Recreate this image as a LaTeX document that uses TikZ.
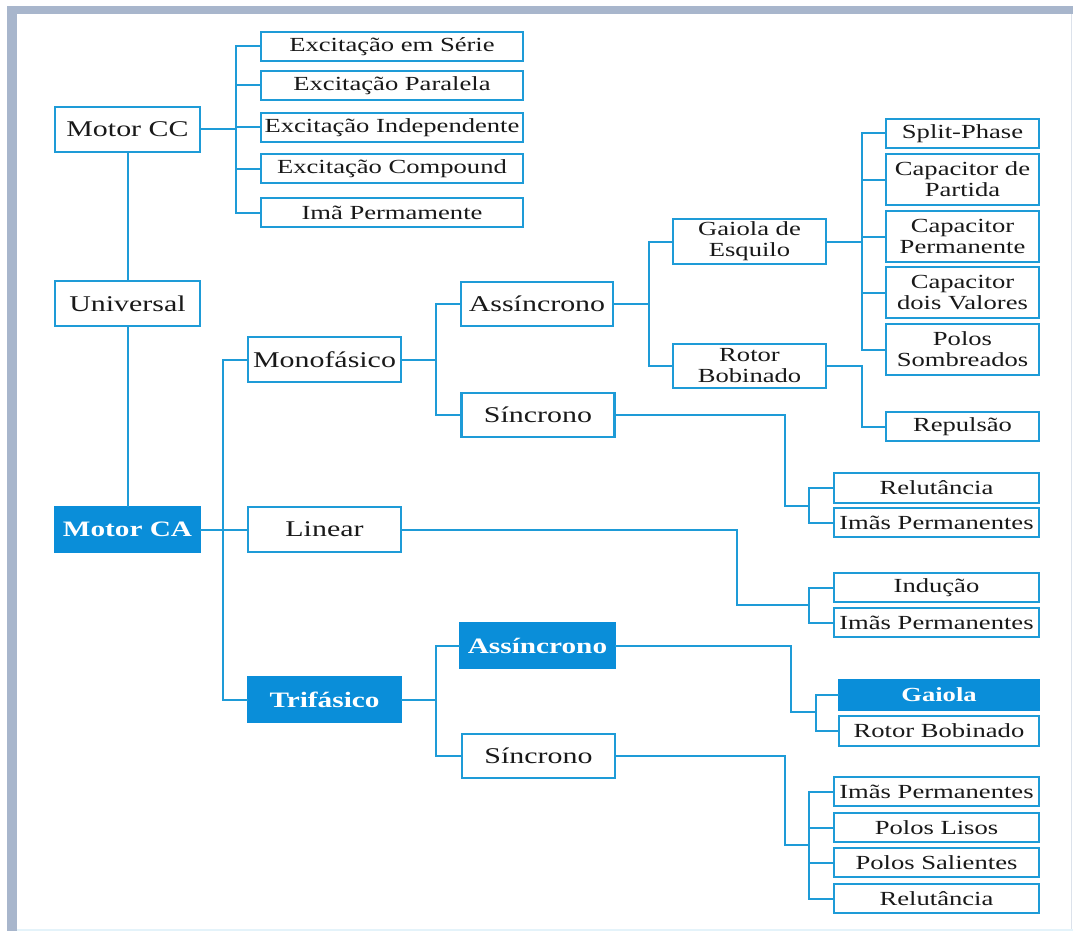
\documentclass[tikz,border=0pt]{standalone}
\usepackage{fontspec}
\setmainfont{Liberation Serif}[FakeStretch=1.33]
\definecolor{cb}{RGB}{30,155,215}
\definecolor{cf}{RGB}{10,142,217}
\definecolor{frame}{RGB}{168,182,204}
\definecolor{txt}{RGB}{25,25,25}
\tikzset{
  box/.style={draw=cb, line width=2.1pt, fill=white, inner sep=0pt, align=center, text=txt},
  fbox/.style={draw=cf, line width=2.1pt, fill=cf, inner sep=0pt, align=center, text=white, font=\bfseries\fontsize{22}{24}\selectfont},
  big/.style={font=\fontsize{22.5}{24}\selectfont},
  sml/.style={font=\fontsize{20}{21}\selectfont},
  conn/.style={draw=cb, line width=2pt, line cap=rect},
}
\begin{document}
\begin{tikzpicture}[x=1pt,y=-1pt]
\useasboundingbox (0,0) rectangle (1073,931);
\fill[white] (0,0) rectangle (1073,931);
\fill[frame] (7,6) rectangle (1073,14);
\fill[frame] (7,6) rectangle (17,931);
\draw[frame!40, line width=1pt] (1071,14) -- (1071,931);
\draw[cb!12, line width=2pt] (17,930) -- (1073,930);

% bracket x-coordinates
\coordinate (bcc) at (236,0);
\coordinate (bca) at (223,0);
\coordinate (bm) at (436,0);
\coordinate (bam) at (649,0);
\coordinate (bg) at (862,0);
\coordinate (vsm) at (785,0);
\coordinate (bsm) at (809,0);
\coordinate (vl) at (737,0);
\coordinate (vat) at (791,0);
\coordinate (bat) at (816,0);

% left column
\node[box, big, minimum width=145pt, minimum height=45pt] (mcc) at (127.5,129.5) {Motor CC};
\node[box, big, minimum width=145pt, minimum height=45pt] (univ) at (127.5,303.5) {Universal};
\node[fbox, minimum width=145pt, minimum height=45pt] (mca) at (127.5,529.5) {Motor CA};

% CC children
\node[box, sml, minimum width=262pt, minimum height=29pt] (e1) at (392,46.5) {Excitação em Série};
\node[box, sml, minimum width=262pt, minimum height=29pt] (e2) at (392,85.5) {Excitação Paralela};
\node[box, sml, minimum width=262pt, minimum height=29pt] (e3) at (392,127.5) {Excitação Independente};
\node[box, sml, minimum width=262pt, minimum height=29pt] (e4) at (392,168.5) {Excitação Compound};
\node[box, sml, minimum width=262pt, minimum height=29pt] (e5) at (392,212.5) {Imã Permamente};

% CA children
\node[box, big, minimum width=153pt, minimum height=45pt] (mono) at (324.5,359.5) {Monofásico};
\node[box, big, minimum width=153pt, minimum height=45pt] (lin) at (324.5,529.5) {Linear};
\node[fbox, minimum width=153pt, minimum height=45pt] (tri) at (324.5,699.5) {Trifásico};

% level 3
\node[box, big, minimum width=152pt, minimum height=44pt] (am) at (537,304) {Assíncrono};
\node[box, big, minimum width=153pt, minimum height=44pt] (sm) at (538,415) {Síncrono};
\node[fbox, minimum width=155pt, minimum height=45pt] (at) at (537.5,645.5) {Assíncrono};
\node[box, big, minimum width=153pt, minimum height=44pt] (st) at (538.5,756) {Síncrono};

% level 4
\node[box, sml, minimum width=153pt, minimum height=45pt] (ge) at (749.5,241.5) {Gaiola de\\Esquilo};
\node[box, sml, minimum width=153pt, minimum height=44pt] (rb) at (749.5,366) {Rotor\\Bobinado};

% right column (gaiola de esquilo)
\node[box, sml, minimum width=153pt, minimum height=29pt] (r1) at (962.5,133.5) {Split-Phase};
\node[box, sml, minimum width=153pt, minimum height=51pt] (r2) at (962.5,179.5) {Capacitor de\\Partida};
\node[box, sml, minimum width=153pt, minimum height=51pt] (r3) at (962.5,236.5) {Capacitor\\Permanente};
\node[box, sml, minimum width=153pt, minimum height=51pt] (r4) at (962.5,292.5) {Capacitor\\dois Valores};
\node[box, sml, minimum width=153pt, minimum height=51pt] (r5) at (962.5,349.5) {Polos\\Sombreados};
\node[box, sml, minimum width=153pt, minimum height=29pt] (rep) at (962.5,426.5) {Repulsão};

% sincrono mono children
\node[box, sml, minimum width=205pt, minimum height=30pt] (sm1) at (936.5,488) {Relutância};
\node[box, sml, minimum width=205pt, minimum height=29pt] (sm2) at (936.5,522.5) {Imãs Permanentes};
% linear children
\node[box, sml, minimum width=205pt, minimum height=29pt] (l1) at (936.5,587.5) {Indução};
\node[box, sml, minimum width=205pt, minimum height=29pt] (l2) at (936.5,622.5) {Imãs Permanentes};
% assincrono tri children
\node[fbox, font=\bfseries\fontsize{20}{21}\selectfont, minimum width=200pt, minimum height=30pt] (at1) at (939,695) {Gaiola};
\node[box, sml, minimum width=200pt, minimum height=30pt] (at2) at (939,731) {Rotor Bobinado};
% sincrono tri children
\node[box, sml, minimum width=205pt, minimum height=29pt] (st1) at (936.5,791.5) {Imãs Permanentes};
\node[box, sml, minimum width=205pt, minimum height=29pt] (st2) at (936.5,827.5) {Polos Lisos};
\node[box, sml, minimum width=205pt, minimum height=29pt] (st3) at (936.5,862.5) {Polos Salientes};
\node[box, sml, minimum width=205pt, minimum height=29pt] (st4) at (936.5,898.5) {Relutância};

% trunk
\draw[conn] (mcc.south) -- (univ.north);
\draw[conn] (univ.south) -- (mca.north);

% CC bracket
\draw[conn] (mcc.east) -- (mcc.east -| bcc);
\draw[conn] (e1.west -| bcc) -- (e5.west -| bcc);
\foreach \n in {e1,e2,e3,e4,e5} \draw[conn] (\n.west -| bcc) -- (\n.west);

% CA bracket
\draw[conn] (mca.east) -- (lin.west);
\draw[conn] (mono.west -| bca) -- (tri.west -| bca);
\draw[conn] (mono.west -| bca) -- (mono.west);
\draw[conn] (tri.west -| bca) -- (tri.west);

% mono bracket
\draw[conn] (mono.east) -- (mono.east -| bm);
\draw[conn] (am.west -| bm) -- (sm.west -| bm);
\draw[conn] (am.west -| bm) -- (am.west);
\draw[conn] (sm.west -| bm) -- (sm.west);

% tri bracket
\draw[conn] (tri.east) -- (tri.east -| bm);
\draw[conn] (at.west -| bm) -- (st.west -| bm);
\draw[conn] (at.west -| bm) -- (at.west);
\draw[conn] (st.west -| bm) -- (st.west);

% assincrono mono bracket
\draw[conn] (am.east) -- (am.east -| bam);
\draw[conn] (ge.west -| bam) -- (rb.west -| bam);
\draw[conn] (ge.west -| bam) -- (ge.west);
\draw[conn] (rb.west -| bam) -- (rb.west);

% gaiola de esquilo bracket
\draw[conn] (ge.east) -- (ge.east -| bg);
\draw[conn] (r1.west -| bg) -- (r5.west -| bg);
\foreach \n in {r1,r2,r3,r4,r5} \draw[conn] (\n.west -| bg) -- (\n.west);

% rotor bobinado -> repulsao
\draw[conn] (rb.east) -| (bg |- rep.west) -- (rep.west);

% sincrono mono
\coordinate (jsm) at (809,505.5);
\draw[conn] (sm.east) -| (vsm |- jsm) -- (jsm);
\draw[conn] (sm1.west -| bsm) -- (sm2.west -| bsm);
\draw[conn] (sm1.west -| bsm) -- (sm1.west);
\draw[conn] (sm2.west -| bsm) -- (sm2.west);

% linear
\coordinate (jl) at (809,604.5);
\draw[conn] (lin.east) -| (vl |- jl) -- (jl);
\draw[conn] (l1.west -| bsm) -- (l2.west -| bsm);
\draw[conn] (l1.west -| bsm) -- (l1.west);
\draw[conn] (l2.west -| bsm) -- (l2.west);

% assincrono tri
\coordinate (jat) at (816,712);
\draw[conn] (at.east) -| (vat |- jat) -- (jat);
\draw[conn] (at1.west -| bat) -- (at2.west -| bat);
\draw[conn] (at1.west -| bat) -- (at1.west);
\draw[conn] (at2.west -| bat) -- (at2.west);

% sincrono tri
\coordinate (jst) at (809,845);
\draw[conn] (st.east) -| (vsm |- jst) -- (jst);
\draw[conn] (st1.west -| bsm) -- (st4.west -| bsm);
\foreach \n in {st1,st2,st3,st4} \draw[conn] (\n.west -| bsm) -- (\n.west);
\end{tikzpicture}
\end{document}
